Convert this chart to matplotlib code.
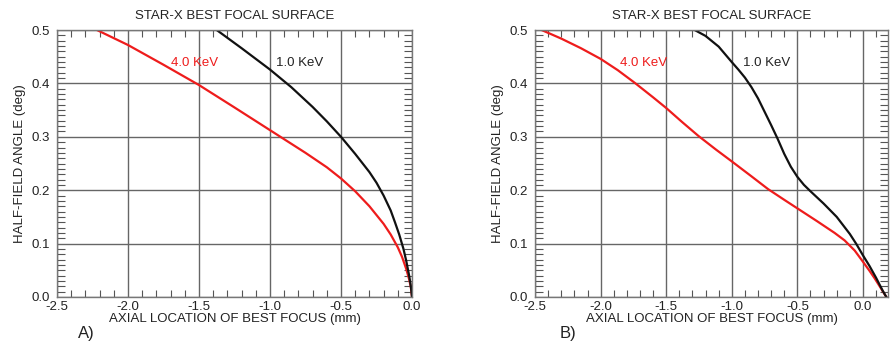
import numpy as np
import matplotlib
matplotlib.use('Agg')
import matplotlib.pyplot as plt
from matplotlib.ticker import MultipleLocator, FormatStrFormatter

plt.rcParams['font.family'] = ['Liberation Sans', 'DejaVu Sans']

# Panel A data
a_black_x = [-1.375, -1.2, -1.0, -0.85, -0.7, -0.6, -0.5, -0.4, -0.3, -0.25, -0.2,
             -0.15, -0.12, -0.09, -0.06, -0.04, -0.02, -0.008, 0.0]
a_black_y = [0.5, 0.466, 0.426, 0.393, 0.356, 0.329, 0.300, 0.268, 0.234, 0.214, 0.190,
             0.162, 0.140, 0.117, 0.090, 0.067, 0.040, 0.020, 0.0]
a_red_x = [-2.218, -2.0, -1.75, -1.5, -1.25, -1.0, -0.75, -0.6, -0.5, -0.4, -0.3, -0.2,
           -0.15, -0.1, -0.07, -0.04, -0.02, -0.008, 0.0]
a_red_y = [0.5, 0.472, 0.435, 0.397, 0.355, 0.3125, 0.270, 0.243, 0.222, 0.198, 0.170, 0.137,
           0.117, 0.093, 0.075, 0.052, 0.033, 0.018, 0.0]

# Panel B data
b_black_x = [-1.282, -1.2, -1.1, -1.0, -0.95, -0.9, -0.85, -0.8, -0.75, -0.7, -0.65, -0.6,
             -0.55, -0.5, -0.45, -0.4, -0.3, -0.2, -0.1, -0.05, 0.0, 0.05, 0.1, 0.15, 0.178]
b_black_y = [0.5, 0.489, 0.469, 0.44, 0.426, 0.411, 0.393, 0.372, 0.347, 0.322, 0.296, 0.268,
             0.244, 0.225, 0.210, 0.198, 0.175, 0.150, 0.118, 0.099, 0.078, 0.058, 0.036,
             0.012, 0.0]
b_red_x = [-2.449, -2.3, -2.15, -2.0, -1.87, -1.739, -1.6, -1.5, -1.38, -1.256, -1.12, -1.0,
           -0.85, -0.723, -0.6, -0.5, -0.35, -0.216, -0.14, -0.063, 0.0, 0.05, 0.089, 0.13,
           0.178]
b_red_y = [0.5, 0.484, 0.466, 0.446, 0.425, 0.401, 0.374, 0.354, 0.328, 0.302, 0.276, 0.254,
           0.226, 0.202, 0.182, 0.166, 0.142, 0.120, 0.106, 0.087, 0.066, 0.049, 0.035, 0.019,
           0.0]

title = 'STAR-X BEST FOCAL SURFACE'
xlabel = 'AXIAL LOCATION OF BEST FOCUS (mm)'
ylabel = 'HALF-FIELD ANGLE (deg)'
red = '#ee1c1c'
fs = 9.5

fig = plt.figure(figsize=(8.91, 3.48), dpi=100)
ax1 = fig.add_axes([0.064, 0.1466, 0.3984, 0.767])
ax2 = fig.add_axes([0.6005, 0.1466, 0.396, 0.767])

def style(ax, xmax):
    ax.set_xlim(-2.5, xmax)
    ax.set_ylim(0, 0.5)
    ax.xaxis.set_major_locator(MultipleLocator(0.5))
    ax.xaxis.set_minor_locator(MultipleLocator(0.1))
    ax.yaxis.set_major_locator(MultipleLocator(0.1))
    ax.yaxis.set_minor_locator(MultipleLocator(0.01))
    ax.xaxis.set_major_formatter(FormatStrFormatter('%.1f'))
    ax.yaxis.set_major_formatter(FormatStrFormatter('%.1f'))
    ax.tick_params(which='both', direction='in', top=True, right=True,
                   color='#555555', labelsize=fs, labelcolor='#222222')
    ax.tick_params(which='major', length=0)
    ax.tick_params(axis='y', which='major', pad=5)
    ax.tick_params(axis='x', which='major', pad=3)
    ax.tick_params(which='minor', length=5, width=0.8)
    ax.tick_params(axis='y', which='minor', length=6)
    ax.grid(True, which='major', color='#666666', linewidth=1.0)
    for s in ax.spines.values():
        s.set_color('#777777')
        s.set_linewidth(1.0)
    ax.set_title(title, fontsize=fs, color='#222222', pad=8)
    ax.set_xlabel(xlabel, fontsize=fs, color='#222222', labelpad=0)
    ax.set_ylabel(ylabel, fontsize=fs, color='#222222', labelpad=4)

style(ax1, 0.0)
ax1.plot(a_red_x, a_red_y, color=red, lw=1.6)
ax1.plot(a_black_x, a_black_y, color='#111111', lw=1.6)
ax1.text(-1.70, 0.4375, '4.0 KeV', color=red, fontsize=fs, va='center')
ax1.text(-0.96, 0.4375, '1.0 KeV', color='#222222', fontsize=fs, va='center')

style(ax2, 0.19)
ax2.plot(b_red_x, b_red_y, color=red, lw=1.6)
ax2.plot(b_black_x, b_black_y, color='#111111', lw=1.6)
ax2.text(-1.853, 0.4375, '4.0 KeV', color=red, fontsize=fs, va='center')
ax2.text(-0.914, 0.4375, '1.0 KeV', color='#222222', fontsize=fs, va='center')

fig.text(0.087, 0.03, 'A)', fontsize=12, color='#222222')
fig.text(0.628, 0.03, 'B)', fontsize=12, color='#222222')

fig.savefig('out.png', dpi=100)
